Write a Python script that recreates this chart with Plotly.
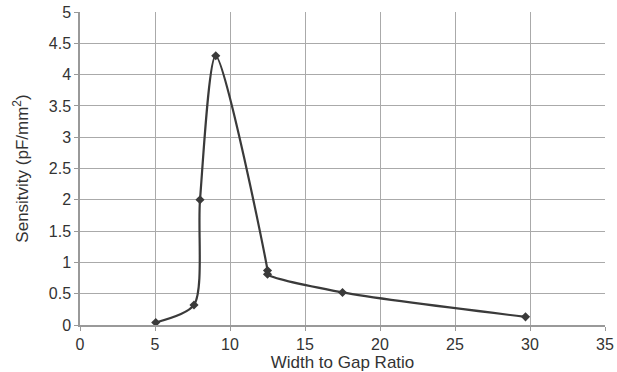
import plotly.graph_objects as go

x_vals = [5.05, 7.6, 8.0, 9.05, 12.5, 12.5, 17.5, 29.7]
y_vals = [0.04, 0.32, 2.0, 4.3, 0.87, 0.81, 0.52, 0.13]
x_ticks = [0, 5, 10, 15, 20, 25, 30, 35]
y_ticks = [0, 0.5, 1, 1.5, 2, 2.5, 3, 3.5, 4, 4.5, 5]

fig = go.Figure()
fig.add_trace(go.Scatter(
    x=x_vals, y=y_vals, mode="lines+markers",
    line=dict(color="#3a3a3a", width=2.2, shape="spline", smoothing=0.75),
    marker=dict(symbol="diamond", size=7, color="#3a3a3a"),
    showlegend=False,
))

font = dict(family="Liberation Sans, Arial, sans-serif", size=16, color="#333333")
fig.update_layout(
    width=617, height=372,
    margin=dict(l=80, r=12, t=12, b=47),
    paper_bgcolor="white", plot_bgcolor="white",
    font=font,
)
fig.update_xaxes(
    range=[0, 35], tickvals=x_ticks, ticktext=[str(v) for v in x_ticks],
    showgrid=True, gridcolor="#aaaaaa", gridwidth=1.2,
    showline=True, linecolor="#999999", linewidth=1.5,
    ticks="outside", ticklen=4, tickcolor="#999999",
    zeroline=False, automargin=False,
    title=dict(text="Width to Gap Ratio", font=dict(size=17), standoff=12),
)
fig.update_yaxes(
    range=[0, 5], tickvals=y_ticks, ticktext=[f"{v:g}" for v in y_ticks],
    showgrid=True, gridcolor="#aaaaaa", gridwidth=1.2,
    showline=True, linecolor="#999999", linewidth=1.5,
    ticks="outside", ticklen=4, tickcolor="#999999",
    zeroline=False, automargin=False,
    title=dict(text="Sensitvity (pF/mm<sup>2</sup>)", font=dict(size=17), standoff=16),
)
fig.write_html("out.html")
